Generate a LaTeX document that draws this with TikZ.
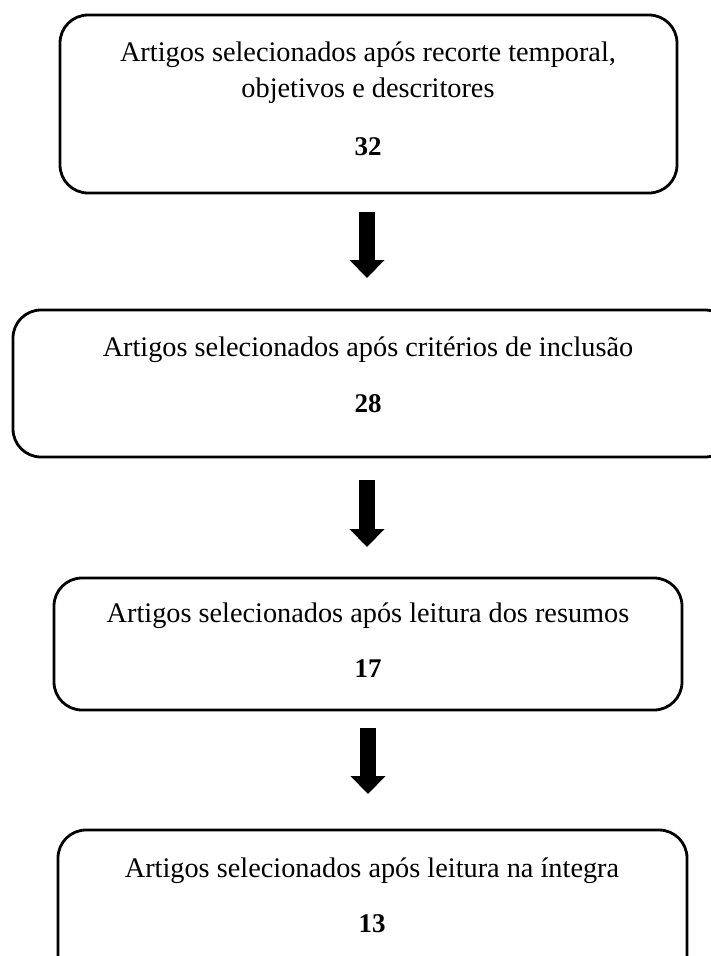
\documentclass[tikz,border=0pt]{standalone}
\usepackage{fontspec}
\setmainfont{Liberation Serif}
\usetikzlibrary{arrows.meta}
\begin{document}
\begin{tikzpicture}[x=1pt,y=-1pt,
  stagebox/.style={draw=black, line width=2.8pt, rounded corners=28pt, inner sep=0pt},
  lbl/.style={anchor=base, inner sep=0pt, font=\fontsize{28.3}{36}\selectfont},
  num/.style={anchor=base, inner sep=0pt, font=\fontsize{27}{36}\selectfont\bfseries},
  flow/.style={line width=16pt, -{Triangle[width=34pt,length=18pt]}}]
\useasboundingbox (0,0) rectangle (710,956);
% boxes
\node[stagebox, minimum width=617pt, minimum height=178pt] (b1) at (368.5,104) {};
\node[stagebox, minimum width=720pt, minimum height=147pt] (b2) at (373,383.5) {};
\node[stagebox, minimum width=628pt, minimum height=132pt] (b3) at (368,644) {};
\node[stagebox, minimum width=629pt, minimum height=160pt] (b4) at (372.5,910) {};
% texts
\node[lbl] (t1a) at (368,61) {Artigos selecionados após recorte temporal,};
\node[lbl] (t1b) at (368,97) {objetivos e descritores};
\node[num] (n1) at (368,155) {32};
\node[lbl] (t2) at (368,356) {Artigos selecionados após critérios de inclusão};
\node[num] (n2) at (368,412) {28};
\node[lbl] (t3) at (368,622) {Artigos selecionados após leitura dos resumos};
\node[num] (n3) at (368,677) {17};
\node[lbl] (t4) at (372,877) {Artigos selecionados após leitura na íntegra};
\node[num] (n4) at (372,932) {13};
% arrows
\coordinate (a1s) at (367,212); \coordinate (a1e) at (367,278);
\coordinate (a2s) at (367,480); \coordinate (a2e) at (367,547);
\coordinate (a3s) at (368,728); \coordinate (a3e) at (368,794);
\draw[flow] (a1s) -- (a1e);
\draw[flow] (a2s) -- (a2e);
\draw[flow] (a3s) -- (a3e);
\end{tikzpicture}
\end{document}
